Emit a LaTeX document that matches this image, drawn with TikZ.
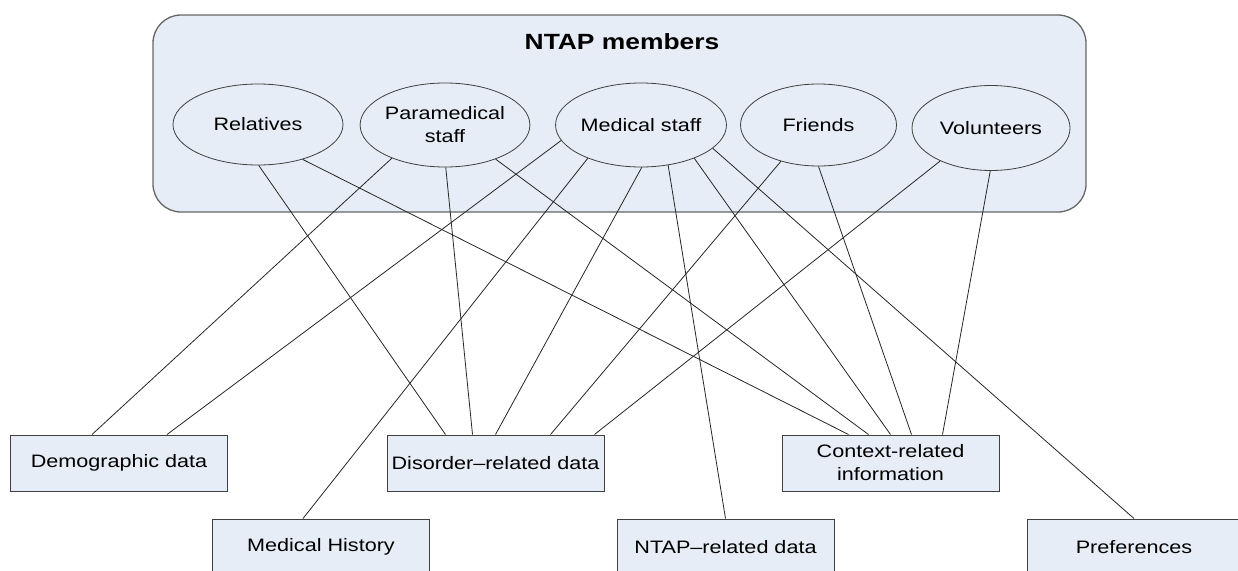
\documentclass[tikz,border=0pt]{standalone}
\usepackage{fontspec}
\setmainfont{Liberation Sans}[FakeStretch=1.2]
\usetikzlibrary{shapes.geometric}
\definecolor{ntapfill}{HTML}{E6EDF6}
\newcommand{\mycolor}{ntapfill}
\newcommand{\mylinecolor}{black!85}
\tikzset{
 member/.style={ellipse, draw=black!75, line width=0.8pt, fill=\mycolor, minimum width=166pt,
   minimum height=83pt, inner sep=0pt, align=center, font=\fontsize{18}{23}\selectfont},
 datum/.style={rectangle, draw=black!75, line width=1pt, fill=\mycolor, minimum width=217pt,
   minimum height=56pt, inner sep=0pt, align=center, font=\fontsize{18}{23}\selectfont},
 link/.style={draw=\mylinecolor, line width=0.8pt}
}

\begin{document}
\begin{tikzpicture}[x=1pt,y=-1pt]
 \useasboundingbox (0,0) rectangle (1238,570);

 % the group of members
 \draw[draw=black!60, line width=1.3pt, fill=\mycolor, rounded corners=28pt] (153,15) rectangle (1086,212);
 \node[font=\fontsize{22}{26}\selectfont\bfseries] (title) at (622,42) {NTAP members};

 \node[member, minimum width=170pt, minimum height=81pt] (rel) at (258,124.5) {Relatives};
 \node[member, minimum width=168pt, minimum height=84pt] (para) at (445,125) {Paramedical\\staff};
 \node[member, minimum width=168pt, minimum height=84pt] (med) at (641,125) {Medical staff};
 \node[member, minimum width=156pt, minimum height=82pt] (fri) at (818.5,125) {Friends};
 \node[member, minimum width=158pt, minimum height=85pt] (vol) at (991,128) {Volunteers};

 % the data
 \node[datum] (demo) at (119,463) {Demographic data};
 \node[datum] (dis) at (495.5,463) {Disorder--related data};
 \node[datum] (ctx) at (890.5,463) {Context-related\\information};
 \node[datum] (hist) at (321,547) {Medical History};
 \node[datum] (ntapdata) at (725.5,547) {NTAP--related data};
 \node[datum, minimum width=214pt] (pref) at (1134,547) {Preferences};

 \draw[link] (rel.271) -- ([xshift=-50pt]dis.north);
 \draw[link] (rel.322) -- ([xshift=-42pt]ctx.north);
 \draw[link] (para.212) -- ([xshift=-27pt]demo.north);
 \draw[link] (para.271) -- ([xshift=-23pt]dis.north);
 \draw[link] (para.326) -- ([xshift=-22pt]ctx.north);
 \draw[link] (med.191) -- ([xshift=48pt]demo.north);
 \draw[link] (med.212) -- ([xshift=-18pt]hist.north);
 \draw[link] (med.271) -- (dis.north);
 \draw[link] (med.304) -- (ntapdata.north);
 \draw[link] (med.328) -- (ctx.north);
 \draw[link] (med.342) -- (pref.north);
 \draw[link] (fri.224) -- ([xshift=55pt]dis.north);
 \draw[link] (fri.270) -- ([xshift=21pt]ctx.north);
 \draw[link] (vol.213) -- ([xshift=99pt]dis.north);
 \draw[link] (vol.269) -- ([xshift=52pt]ctx.north);

\end{tikzpicture}
\end{document}
